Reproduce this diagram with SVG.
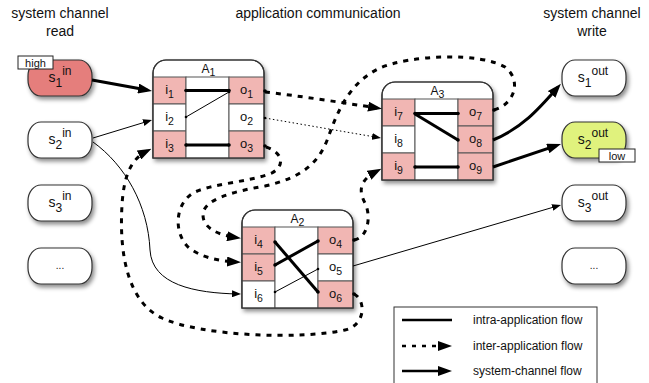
<svg xmlns="http://www.w3.org/2000/svg" width="649" height="383" viewBox="0 0 649 383">
<defs>
<style>
.t{font-family:"Liberation Sans",Arial,sans-serif;fill:#111}
.title{font-size:14px;text-anchor:middle}
.lbl{font-size:13px;text-anchor:middle}
.sub{font-size:10.5px}
.hdr{font-size:12px;text-anchor:middle}
.nd{font-size:14px;text-anchor:middle}
.ns{font-size:12px}
.box{fill:#fff;stroke:#333;stroke-width:1.2}
.boxo{fill:none;stroke:#333;stroke-width:1.2}
.cp{fill:#f1b6b3;stroke:#555;stroke-width:1}
.cw{fill:#fff;stroke:#555;stroke-width:1}
.pill{stroke:#333;stroke-width:1.2}
.thick{fill:none;stroke:#000;stroke-width:3}
.thin{fill:none;stroke:#000;stroke-width:1}
.dash{fill:none;stroke:#000;stroke-width:3;stroke-dasharray:5 6}
.dot{fill:none;stroke:#000;stroke-width:1;stroke-dasharray:1.5 2.5}
.tag{fill:#fff;stroke:#222;stroke-width:1}
</style>
<filter id="sh" x="-20%" y="-20%" width="150%" height="160%">
<feDropShadow dx="2" dy="3" stdDeviation="2" flood-color="#000" flood-opacity="0.45"/>
</filter>
<marker id="ah" markerUnits="userSpaceOnUse" markerWidth="14" markerHeight="10" refX="9" refY="5" orient="auto"><path d="M0,0 L14,5 L0,10 Z" fill="#000"/></marker>
<marker id="as" markerUnits="userSpaceOnUse" markerWidth="9" markerHeight="7" refX="6" refY="3.5" orient="auto"><path d="M0,0 L9,3.5 L0,7 Z" fill="#000"/></marker>
</defs>

<g id="titles">
<text class="t title" x="60" y="18">system channel</text>
<text class="t title" x="60" y="36">read</text>
<text class="t title" x="318" y="18">application communication</text>
<text class="t title" x="592" y="18">system channel</text>
<text class="t title" x="592" y="36">write</text>
</g>

<g id="s1in">
<rect class="pill" x="28" y="60" width="64" height="36" rx="13" ry="16" fill="#e57e7b" filter="url(#sh)"/>
<text class="t nd" x="60" y="82">s<tspan class="ns" dy="5">1</tspan><tspan class="ns" dy="-12">in</tspan></text>
<rect class="tag" x="18" y="56" width="35" height="13"/>
<text class="t" x="35.5" y="66.5" font-size="11" text-anchor="middle">high</text>
</g>
<g id="s2in">
<rect class="pill" x="28" y="122" width="64" height="36" rx="13" ry="16" fill="#fff" filter="url(#sh)"/>
<text class="t nd" x="60" y="144">s<tspan class="ns" dy="5">2</tspan><tspan class="ns" dy="-12">in</tspan></text>
</g>
<g id="s3in">
<rect class="pill" x="28" y="185" width="64" height="36" rx="13" ry="16" fill="#fff" filter="url(#sh)"/>
<text class="t nd" x="60" y="207">s<tspan class="ns" dy="5">3</tspan><tspan class="ns" dy="-12">in</tspan></text>
</g>
<g id="sin_more">
<rect class="pill" x="28" y="248" width="64" height="36" rx="13" ry="16" fill="#fff" filter="url(#sh)"/>
<text class="t" x="60" y="269" font-size="10" text-anchor="middle" fill="#555">...</text>
</g>

<g id="s1out">
<rect class="pill" x="562" y="60" width="64" height="36" rx="13" ry="16" fill="#fff" filter="url(#sh)"/>
<text class="t nd" x="593" y="82">s<tspan class="ns" dy="5">1</tspan><tspan class="ns" dy="-12">out</tspan></text>
</g>
<g id="s2out">
<rect class="pill" x="562" y="122" width="64" height="36" rx="13" ry="16" fill="#e0f27d" filter="url(#sh)"/>
<text class="t nd" x="593" y="144">s<tspan class="ns" dy="5">2</tspan><tspan class="ns" dy="-12">out</tspan></text>
<rect class="tag" x="599" y="149" width="36" height="13"/>
<text class="t" x="617" y="159.5" font-size="11" text-anchor="middle">low</text>
</g>
<g id="s3out">
<rect class="pill" x="562" y="185" width="64" height="36" rx="13" ry="16" fill="#fff" filter="url(#sh)"/>
<text class="t nd" x="593" y="207">s<tspan class="ns" dy="5">3</tspan><tspan class="ns" dy="-12">out</tspan></text>
</g>
<g id="sout_more">
<rect class="pill" x="562" y="248" width="64" height="36" rx="13" ry="16" fill="#fff" filter="url(#sh)"/>
<text class="t" x="594" y="269" font-size="10" text-anchor="middle" fill="#555">...</text>
</g>

<g id="A1" transform="translate(153,60)">
<path class="box" d="M0,98 V13 A13,13 0 0 1 13,0 H98 A13,13 0 0 1 111,13 V98 Z" filter="url(#sh)"/>
<rect class="cp" x="0" y="17" width="33" height="27"/>
<rect class="cw" x="0" y="44" width="33" height="27"/>
<rect class="cp" x="0" y="71" width="33" height="27"/>
<rect class="cw" x="33" y="17" width="43" height="81"/>
<rect class="cp" x="76" y="17" width="35" height="27"/>
<rect class="cw" x="76" y="44" width="35" height="27"/>
<rect class="cp" x="76" y="71" width="35" height="27"/>
<path class="boxo" d="M0,98 V13 A13,13 0 0 1 13,0 H98 A13,13 0 0 1 111,13 V98 Z"/>
<text class="t hdr" x="55.5" y="13">A<tspan class="sub" dy="3">1</tspan></text>
<text class="t lbl" x="16.5" y="34">i<tspan class="sub" dy="4">1</tspan></text>
<text class="t lbl" x="16.5" y="61">i<tspan class="sub" dy="4">2</tspan></text>
<text class="t lbl" x="16.5" y="88">i<tspan class="sub" dy="4">3</tspan></text>
<text class="t lbl" x="93.5" y="34">o<tspan class="sub" dy="4">1</tspan></text>
<text class="t lbl" x="93.5" y="61">o<tspan class="sub" dy="4">2</tspan></text>
<text class="t lbl" x="93.5" y="88">o<tspan class="sub" dy="4">3</tspan></text>
</g>

<g id="A3" transform="translate(382,82)">
<path class="box" d="M0,98 V13 A13,13 0 0 1 13,0 H98 A13,13 0 0 1 111,13 V98 Z" filter="url(#sh)"/>
<rect class="cp" x="0" y="17" width="33" height="27"/>
<rect class="cw" x="0" y="44" width="33" height="27"/>
<rect class="cp" x="0" y="71" width="33" height="27"/>
<rect class="cw" x="33" y="17" width="43" height="81"/>
<rect class="cp" x="76" y="17" width="35" height="27"/>
<rect class="cp" x="76" y="44" width="35" height="27"/>
<rect class="cp" x="76" y="71" width="35" height="27"/>
<path class="boxo" d="M0,98 V13 A13,13 0 0 1 13,0 H98 A13,13 0 0 1 111,13 V98 Z"/>
<text class="t hdr" x="55.5" y="13">A<tspan class="sub" dy="3">3</tspan></text>
<text class="t lbl" x="16.5" y="34">i<tspan class="sub" dy="4">7</tspan></text>
<text class="t lbl" x="16.5" y="61">i<tspan class="sub" dy="4">8</tspan></text>
<text class="t lbl" x="16.5" y="88">i<tspan class="sub" dy="4">9</tspan></text>
<text class="t lbl" x="93.5" y="34">o<tspan class="sub" dy="4">7</tspan></text>
<text class="t lbl" x="93.5" y="61">o<tspan class="sub" dy="4">8</tspan></text>
<text class="t lbl" x="93.5" y="88">o<tspan class="sub" dy="4">9</tspan></text>
</g>

<g id="A2" transform="translate(242,210)">
<path class="box" d="M0,98 V13 A13,13 0 0 1 13,0 H98 A13,13 0 0 1 111,13 V98 Z" filter="url(#sh)"/>
<rect class="cp" x="0" y="17" width="33" height="27"/>
<rect class="cp" x="0" y="44" width="33" height="27"/>
<rect class="cw" x="0" y="71" width="33" height="27"/>
<rect class="cw" x="33" y="17" width="43" height="81"/>
<rect class="cp" x="76" y="17" width="35" height="27"/>
<rect class="cw" x="76" y="44" width="35" height="27"/>
<rect class="cp" x="76" y="71" width="35" height="27"/>
<path class="boxo" d="M0,98 V13 A13,13 0 0 1 13,0 H98 A13,13 0 0 1 111,13 V98 Z"/>
<text class="t hdr" x="55.5" y="13">A<tspan class="sub" dy="3">2</tspan></text>
<text class="t lbl" x="16.5" y="34">i<tspan class="sub" dy="4">4</tspan></text>
<text class="t lbl" x="16.5" y="61">i<tspan class="sub" dy="4">5</tspan></text>
<text class="t lbl" x="16.5" y="88">i<tspan class="sub" dy="4">6</tspan></text>
<text class="t lbl" x="93.5" y="34">o<tspan class="sub" dy="4">4</tspan></text>
<text class="t lbl" x="93.5" y="61">o<tspan class="sub" dy="4">5</tspan></text>
<text class="t lbl" x="93.5" y="88">o<tspan class="sub" dy="4">6</tspan></text>
</g>

<g id="connectors">
<path class="thick" d="M186,90.5 H229"/>
<path class="thin" d="M186,117 L229,92"/>
<path class="thick" d="M186,145 H229"/>
<path class="thick" d="M415,113.5 H458"/>
<path class="thick" d="M415,114 L458,140"/>
<path class="thick" d="M415,167 H458"/>
<path class="thick" d="M275,242 L318,292"/>
<path class="thick" d="M275,265 L318,241"/>
<path class="thin" d="M275,292 L318,269"/>
<g fill="#000">
<circle cx="186" cy="90.5" r="1.8"/><circle cx="229" cy="90.5" r="1.8"/>
<circle cx="186" cy="117" r="1.3"/><circle cx="229" cy="92" r="1.3"/>
<circle cx="186" cy="145" r="1.8"/><circle cx="229" cy="145" r="1.8"/>
<circle cx="415" cy="113.5" r="1.8"/><circle cx="458" cy="113.5" r="1.8"/>
<circle cx="458" cy="140" r="1.8"/>
<circle cx="415" cy="167" r="1.8"/><circle cx="458" cy="167" r="1.8"/>
<circle cx="275" cy="242" r="1.8"/><circle cx="318" cy="292" r="1.8"/>
<circle cx="275" cy="265" r="1.8"/><circle cx="318" cy="241" r="1.8"/>
<circle cx="275" cy="292" r="1.3"/><circle cx="318" cy="269" r="1.3"/>
<circle cx="265" cy="91" r="1.8"/><circle cx="265" cy="118" r="1.3"/><circle cx="265" cy="146" r="1.8"/>
<circle cx="494" cy="110" r="1.8"/>
<circle cx="354" cy="240" r="1.8"/><circle cx="354" cy="294" r="1.8"/>
</g>
<path class="thick" d="M92,80 L147.1,90.1" marker-end="url(#ah)"/>
<path class="thin" d="M93,138 L149.1,120.9" marker-end="url(#as)"/>
<path class="thin" d="M93,142 C125,165 148,205 150,250 C152,285 195,293 238,294" marker-end="url(#as)"/>
<path class="thick" d="M493,140 C522,128 538,110 557.6,87.6" marker-end="url(#ah)"/>
<path class="thick" d="M493,167 L556.3,145.6" marker-end="url(#ah)"/>
<path class="thin" d="M353,266 L558.1,205.8" marker-end="url(#as)"/>
<path class="dash" d="M265,92 C300,96 345,103 377,108" marker-end="url(#ah)"/>
<path class="dot" d="M265,118 L378,137.5" marker-end="url(#as)"/>
<path class="dash" d="M266,147 C282,152 286,165 272,173 C250,182 215,183 195,192 C175,202 173,232 188,247 C200,257 218,261 236,262" marker-end="url(#ah)"/>
<path class="dash" d="M494,110 C515,104 522,80 505,67 C480,52 410,55 380,68 C350,82 338,110 328,138 C318,165 300,178 265,186 C230,192 203,200 203,215 C203,228 218,235 236,237.5" marker-end="url(#ah)"/>
<path class="dash" d="M354,240 C367,238 372,218 365,203 C358,190 360,180 377,171" marker-end="url(#ah)"/>
<path class="dash" d="M354,294 C366,300 366,325 345,330 C300,340 200,336 162,318 C128,302 119,255 122,205 C124,172 133,158 147,151" marker-end="url(#ah)"/>
</g>

<g id="legend">
<rect x="394" y="307" width="203" height="82" fill="#fff" stroke="#333" stroke-width="1"/>
<path d="M402,320 H452" stroke="#000" stroke-width="2.5" fill="none"/>
<path d="M402,346 H447" stroke="#000" stroke-width="2.5" stroke-dasharray="4 6" fill="none" marker-end="url(#ah)"/>
<path d="M402,371 H447" stroke="#000" stroke-width="2.5" fill="none" marker-end="url(#ah)"/>
<text class="t" x="473" y="324" font-size="12">intra-application flow</text>
<text class="t" x="473" y="350" font-size="12">inter-application flow</text>
<text class="t" x="473" y="375" font-size="12">system-channel flow</text>
</g>
</svg>
